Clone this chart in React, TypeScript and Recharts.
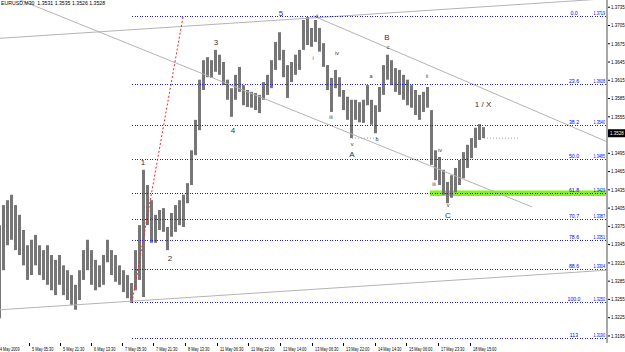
import {
  Bar,
  ComposedChart,
  ReferenceArea,
  ReferenceDot,
  ReferenceLine,
  XAxis,
  YAxis,
} from "recharts";

// EURUSD M30, each row groups 4 half-hour bars
const BAR_STEP = 4;

const highs = [
  1.3377, 1.341, 1.3418, 1.3427, 1.341, 1.3394, 1.3369, 1.3344, 1.3353, 1.3361,
  1.3344, 1.3336, 1.3344, 1.3328, 1.332, 1.3328, 1.3311, 1.3303, 1.3295, 1.3279,
  1.3303, 1.3336, 1.3353, 1.3336, 1.332, 1.3311, 1.3328, 1.3353, 1.3336, 1.3328,
  1.3311, 1.3303, 1.3295, 1.3282, 1.3336, 1.3377, 1.3468, 1.3443, 1.3418, 1.3394,
  1.3402, 1.3405, 1.3374, 1.3397, 1.341, 1.3418, 1.3427, 1.3446, 1.35, 1.355,
  1.3616, 1.3648, 1.3653, 1.3648, 1.3665, 1.3657, 1.3645, 1.3616, 1.3602, 1.3624,
  1.3637, 1.3607, 1.3599, 1.3596, 1.3594, 1.3591, 1.3612, 1.3624, 1.3648, 1.3678,
  1.3694, 1.3665, 1.364, 1.3645, 1.3657, 1.3665, 1.3714, 1.3719, 1.3701, 1.3714,
  1.3701, 1.3676, 1.364, 1.3619, 1.3632, 1.362, 1.3599, 1.3588, 1.3583, 1.3583,
  1.3579, 1.3583, 1.3607, 1.3583, 1.3574, 1.3604, 1.364, 1.3657, 1.3648, 1.3635,
  1.3632, 1.3624, 1.3616, 1.3607, 1.3599, 1.3591, 1.3596, 1.3604, 1.3566, 1.35,
  1.3489, 1.3468, 1.3448, 1.3459, 1.3471, 1.3484, 1.3497, 1.3509, 1.352, 1.3537,
  1.3543, 1.3538,
];

const lows = [
  1.3224, 1.3303, 1.3344, 1.3353, 1.3336, 1.3328, 1.3311, 1.3287, 1.3295, 1.3311,
  1.3295, 1.3287, 1.3279, 1.327, 1.3262, 1.3279, 1.3262, 1.3254, 1.3246, 1.3238,
  1.3254, 1.3287, 1.3303, 1.3279, 1.327, 1.3275, 1.3279, 1.3316, 1.3295, 1.3284,
  1.3279, 1.3267, 1.3257, 1.3249, 1.327, 1.3287, 1.3259, 1.3377, 1.3348, 1.3348,
  1.3369, 1.3366, 1.3336, 1.3358, 1.3366, 1.3377, 1.3374, 1.3413, 1.3443, 1.3492,
  1.3533, 1.3599, 1.362, 1.3619, 1.3629, 1.3624, 1.3607, 1.3583, 1.3555, 1.3583,
  1.3596, 1.3574, 1.3571, 1.357, 1.3566, 1.3561, 1.3583, 1.3591, 1.3602, 1.3632,
  1.3648, 1.362, 1.3586, 1.3612, 1.3624, 1.3632, 1.3665, 1.3673, 1.367, 1.3678,
  1.3662, 1.3637, 1.3599, 1.3563, 1.3602, 1.3588, 1.3566, 1.355, 1.352, 1.355,
  1.3546, 1.3545, 1.3574, 1.3542, 1.3528, 1.3563, 1.3591, 1.3616, 1.3607, 1.3596,
  1.3591, 1.3583, 1.3574, 1.357, 1.3558, 1.355, 1.3563, 1.357, 1.3476, 1.3451,
  1.3443, 1.3427, 1.3413, 1.3422, 1.3431, 1.3443, 1.3454, 1.3471, 1.3487, 1.3504,
  1.3517, 1.352,
];

const xTicks = [-3, 29, 60, 91, 122, 153, 185, 217, 248, 280, 312, 343, 375, 406, 438, 470];
const xTickLabels = [
  "4 May 2009", "5 May 05:30", "5 May 21:30", "6 May 13:30", "7 May 05:30",
  "7 May 21:30", "8 May 13:30", "11 May 06:30", "11 May 22:00", "12 May 14:00",
  "13 May 06:30", "13 May 22:00", "14 May 14:30", "15 May 06:00", "17 May 23:30",
  "18 May 15:00",
];

// 1.3525 sits under the last-price box
const yTicks = [
  1.3195, 1.3225, 1.3255, 1.3285, 1.3315, 1.3345, 1.3375, 1.3405, 1.3435, 1.3465,
  1.3495, 1.3555, 1.3585, 1.3615, 1.3645, 1.3675, 1.3705, 1.3735,
];

const fibRatios = ["0.0", "23.6", "38.2", "50.0", "61.8", "70.7", "78.6", "88.6", "100.0", "113"];
const fibPrices = [1.3719, 1.3608, 1.354, 1.3485, 1.3429, 1.3387, 1.3351, 1.3304, 1.325, 1.319];

// wave count labels: text, bar, price
const waveText = ["5", "3", "4", "1", "2", "B", "A", "C", "1 / X"];
const waveBar = [281, 216, 233, 143, 170, 387, 352, 448, 483];
const wavePrice = [1.3726, 1.3678, 1.3533, 1.3481, 1.3323, 1.3686, 1.3494, 1.3394, 1.3576];

const subText = ["ii", "i", "iii", "iv", "v", "a", "b", "c", "ii", "iv", "iii", "v"];
const subBar = [317, 313, 331, 337, 352, 371, 377, 388, 427, 440, 434, 448];
const subPrice = [1.3721, 1.3652, 1.3555, 1.366, 1.3511, 1.3622, 1.3519, 1.367, 1.3622, 1.35, 1.3445, 1.341];

const lastPrice = 1.3528;
const header = "EURUSD,M30  1.3531 1.3535 1.3526 1.3528";

const data = highs.map((h, i) => ({ bar: i * BAR_STEP, range: [lows[i], h] }));

const FONT = "'Liberation Sans', Arial, sans-serif";

function XTick(props: any) {
  const { x, y, payload, index } = props;
  const label = xTickLabels[index] ?? String(payload.value);
  return (
    <g>
      <line x1={x} y1={y} x2={x} y2={y + 3} stroke="#000" strokeWidth={1} shapeRendering="crispEdges" />
      <text
        x={Math.max(x + 3, 0)}
        y={y + 7.5}
        fontSize={5.2}
        fontFamily={FONT}
        fill="#000"
        textLength={label.length * 1.95}
        lengthAdjust="spacingAndGlyphs"
      >
        {label}
      </text>
    </g>
  );
}

function YTick(props: any) {
  const { x, y, payload } = props;
  return (
    <g>
      <line x1={x + 1} y1={y} x2={x + 3} y2={y} stroke="#000" strokeWidth={1} />
      <text x={x + 4} y={y + 1.8} fontSize={4.5} fontFamily={FONT} fill="#000">
        {payload.value.toFixed(4)}
      </text>
    </g>
  );
}

export default function App() {
  return (
    <div style={{ position: "absolute", left: 0, top: 0, width: 625, height: 352, background: "#fff" }}>
      <ComposedChart width={625} height={352} data={data} margin={{ top: 0, right: 0, bottom: 0, left: 0 }}>
        <XAxis
          type="number"
          dataKey="bar"
          domain={[0, 607]}
          allowDataOverflow
          ticks={xTicks}
          interval={0}
          tick={<XTick />}
          tickSize={0}
          tickMargin={0}
          axisLine={false}
          height={9}
        />
        <YAxis
          orientation="right"
          domain={[1.31834, 1.37469]}
          allowDataOverflow
          ticks={yTicks}
          interval={0}
          tick={<YTick />}
          tickSize={0}
          tickMargin={0}
          axisLine={{ stroke: "#a8a8a8", strokeWidth: 2 }}
          width={18}
        />

        <ReferenceArea x1={430} x2={607} y1={1.3425} y2={1.3434} fill="#86f020" fillOpacity={1} stroke="none" />

        <ReferenceLine segment={[{ x: 0, y: 1.3684 }, { x: 607, y: 1.3749 }]} stroke="#b4b4b4" ifOverflow="hidden" />
        <ReferenceLine segment={[{ x: 20, y: 1.3747 }, { x: 532, y: 1.3407 }]} stroke="#b4b4b4" ifOverflow="hidden" />
        <ReferenceLine segment={[{ x: 313, y: 1.3721 }, { x: 607, y: 1.3514 }]} stroke="#b4b4b4" ifOverflow="hidden" />
        <ReferenceLine segment={[{ x: 0, y: 1.3238 }, { x: 607, y: 1.3303 }]} stroke="#b4b4b4" ifOverflow="hidden" />
        <ReferenceLine segment={[{ x: 352, y: 1.352 }, { x: 378, y: 1.352 }]} stroke="#a0a0a0" strokeDasharray="1 2" />
        <ReferenceLine segment={[{ x: 484, y: 1.352 }, { x: 520, y: 1.352 }]} stroke="#a0a0a0" strokeDasharray="1 2" />
        <ReferenceLine segment={[{ x: 132, y: 1.325 }, { x: 183, y: 1.3719 }]} stroke="#ff2020" strokeDasharray="2 2" />

        <Bar dataKey="range" fill="#767676" barSize={3} isAnimationActive={false} />

        {fibPrices.map((p, i) => (
          <ReferenceLine
            key={"fib" + i}
            segment={[{ x: 132, y: p }, { x: 607, y: p }]}
            stroke="#1818ff"
            strokeDasharray="1 1.5"
            shapeRendering="crispEdges"
          />
        ))}

        {fibPrices.map((p, i) => (
          <ReferenceDot
            key={"fl" + i}
            x={605}
            y={p}
            r={0}
            stroke="none"
            label={(lp: any) => (
              <g fontSize={5.2} fontFamily={FONT} fill="#0000ff">
                <text x={lp.viewBox.x - 31} y={lp.viewBox.y - 1.5} textAnchor="middle">
                  {fibRatios[i]}
                </text>
                <text
                  x={lp.viewBox.x - 11.5}
                  y={lp.viewBox.y - 1.5}
                  textLength={11.5}
                  lengthAdjust="spacingAndGlyphs"
                >
                  {p.toFixed(4)}
                </text>
              </g>
            )}
          />
        ))}

        {waveText.map((t, i) => (
          <ReferenceDot
            key={"w" + i}
            x={waveBar[i]}
            y={wavePrice[i]}
            r={0}
            stroke="none"
            label={(lp: any) => (
              <text x={lp.viewBox.x} y={lp.viewBox.y + 3} textAnchor="middle" fontSize={8} fontFamily={FONT} fill="#333">
                {t}
              </text>
            )}
          />
        ))}

        {subText.map((t, i) => (
          <ReferenceDot
            key={"s" + i}
            x={subBar[i]}
            y={subPrice[i]}
            r={0}
            stroke="none"
            label={(lp: any) => (
              <text x={lp.viewBox.x} y={lp.viewBox.y + 2} textAnchor="middle" fontSize={5.5} fontFamily={FONT} fill="#333">
                {t}
              </text>
            )}
          />
        ))}

        <ReferenceDot
          x={607}
          y={lastPrice}
          r={0}
          stroke="none"
          label={(lp: any) => (
            <g>
              <rect x={lp.viewBox.x + 1} y={lp.viewBox.y - 4} width={17} height={8} fill="#000" />
              <text x={lp.viewBox.x + 3} y={lp.viewBox.y + 1.8} fontSize={4.5} fontFamily={FONT} fill="#fff">
                {lastPrice.toFixed(4)}
              </text>
            </g>
          )}
        />
      </ComposedChart>
      <div style={{ position: "absolute", left: 1, top: 0, fontSize: 5.2, fontFamily: FONT, color: "#000", whiteSpace: "pre" }}>
        {header}
      </div>
    </div>
  );
}
